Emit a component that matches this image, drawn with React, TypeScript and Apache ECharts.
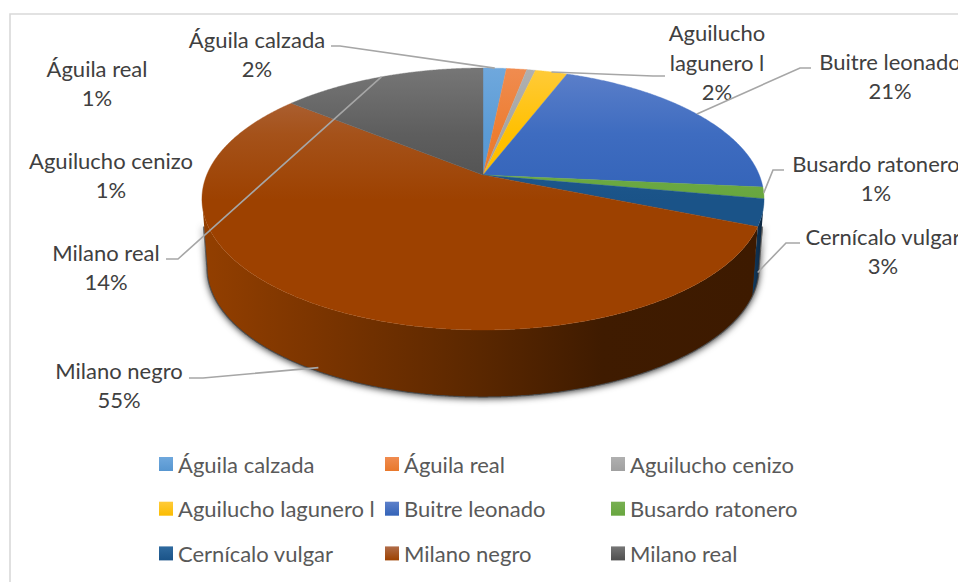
import React, { useEffect, useRef } from "react";
import * as echarts from "echarts";

// ---------- data ----------
const categories = [
  "Águila calzada",
  "Águila real",
  "Aguilucho cenizo",
  "Aguilucho lagunero l",
  "Buitre leonado",
  "Busardo ratonero",
  "Cernícalo vulgar",
  "Milano negro",
  "Milano real",
];
const values = [1.6, 1.4, 0.6, 2.2, 20.7, 1.4, 3.3, 54.7, 14.1];
const legendColumns = [
  ["Águila calzada", "Aguilucho lagunero l", "Cernícalo vulgar"],
  ["Águila real", "Buitre leonado", "Milano negro"],
  ["Aguilucho cenizo", "Busardo ratonero", "Milano real"],
];

// ---------- style & layout ----------
const FONT = "Lato";
const faceStops = [
  ["#6fa8dd", "#5b9bd5", "#5796d0"],
  ["#f08c50", "#ed7d31", "#e8782b"],
  ["#b0b0b0", "#a5a5a5", "#a0a0a0"],
  ["#ffcb3a", "#ffc000", "#fbbc00"],
  ["#5d80ca", "#3e6cc0", "#3363b8"],
  ["#78b052", "#70ad47", "#68a63f"],
  ["#2f6a9f", "#225c91", "#1a5388"],
  ["#b06c48", "#a5521a", "#9d4100"],
  ["#767676", "#5e5e5e", "#4f4f4f"],
];
const sideStops: Record<number, [number, string][]> = {
  6: [[0, "#123a5e"], [1, "#0b2238"]],
  7: [[0, "#933f00"], [0.2, "#7c3500"], [0.5, "#5a2700"], [0.72, "#3f1b00"], [1, "#3d1a00"]],
};
// label centre, wrapped lines, leader line elbow points, and how far down the wall the leader ends
const labelLayout: any[] = [
  { x: 257, y: 54, lines: ["Águila calzada"], path: [[331, 46], [340, 46]], wall: 0 },
  { x: 97, y: 83, lines: ["Águila real"] },
  { x: 111, y: 175, lines: ["Aguilucho cenizo"] },
  { x: 717, y: 62, lines: ["Aguilucho", "lagunero l"], path: [[665, 76], [653, 76]], wall: 0 },
  { x: 890, y: 76, lines: ["Buitre leonado"], path: [[811, 68], [800, 68]], wall: 0 },
  { x: 876, y: 178, lines: ["Busardo ratonero"], path: [[784, 170], [773, 170]], wall: 0 },
  { x: 883, y: 251, lines: ["Cernícalo vulgar"], path: [[800, 243], [786, 243]], wall: 0.87 },
  { x: 119, y: 385, lines: ["Milano negro"], path: [[189, 378], [203, 378]], wall: 0.95 },
  { x: 106, y: 267, lines: ["Milano real"], path: [[166, 259], [178, 259]], wall: 0 },
];
const APEX_X = 483;
const APEX_Y = 175;
const PERSPECTIVE = 0.1832;
const AX = 276.3;
const AY = 126.6;
const DEPTH = 69.5;
const SHRINK = 0.02;
const legendLeft = [159, 385, 611];

const total = values.reduce((a, b) => a + b, 0);
const starts: number[] = [];
values.reduce((acc, v, i) => {
  starts[i] = acc;
  return acc + v;
}, 0);
const toAngle = (v: number) => (v / total) * Math.PI * 2;

// perspective projection of the pie's circle; wall = 0 on the top face, 1 on the floor
const project = (phi: number, wall = 0): number[] => {
  const d = 1 + PERSPECTIVE * Math.cos(phi);
  const dx = (AX * Math.sin(phi)) / d;
  const dy = (-AY * Math.cos(phi)) / d;
  const s = 1 - wall * SHRINK;
  return [APEX_X + s * dx, APEX_Y + s * dy + wall * DEPTH];
};
const PHI_R = Math.acos(-PERSPECTIVE);
const PHI_L = Math.PI * 2 - PHI_R;

const arc = (a: number, b: number, wall = 0) => {
  const pts: number[][] = [];
  const n = Math.max(2, Math.ceil(Math.abs(b - a) / 0.005));
  for (let i = 0; i <= n; i++) pts.push(project(a + ((b - a) * i) / n, wall));
  return pts;
};

const faceGradient = (i: number) =>
  new echarts.graphic.LinearGradient(
    0,
    68,
    0,
    200,
    [
      { offset: 0, color: faceStops[i][0] },
      { offset: 0.5, color: faceStops[i][1] },
      { offset: 1, color: faceStops[i][2] },
    ],
    true
  );

const renderSlice = (i: number) => () => {
  const a = toAngle(starts[i]);
  const b = toAngle(starts[i] + values[i]);
  const children: any[] = [];
  const lo = Math.max(a, PHI_R);
  const hi = Math.min(b, PHI_L);
  if (hi > lo && sideStops[i]) {
    const pts = [...arc(lo, hi, 0), ...arc(hi, lo, 1)];
    children.push({
      type: "polygon",
      shape: { points: pts },
      style: {
        fill: new echarts.graphic.LinearGradient(
          1,
          0,
          0,
          0,
          sideStops[i].map(([offset, color]) => ({ offset: 1 - offset, color })).reverse()
        ),
      },
    });
  }
  const grad = faceGradient(i);
  children.push({
    type: "polygon",
    shape: { points: [[APEX_X, APEX_Y], ...arc(a, b, 0)] },
    style: { fill: grad, stroke: grad, lineWidth: 0.4 },
  });
  return { type: "group", children };
};

// soft shadow under the wall: only the lower half of the silhouette, so the top rim stays clean
const renderShadow = () => ({
  type: "polygon",
  shape: { points: [...arc(PHI_R, PHI_L, 0.4), ...arc(PHI_L, PHI_R, 1)] },
  style: {
    fill: "#5a2700",
    stroke: "rgba(50,50,50,0.65)",
    lineWidth: 2.5,
    shadowBlur: 7,
    shadowColor: "rgba(0,0,0,0.85)",
    shadowOffsetX: 0,
    shadowOffsetY: 1,
  },
});

const renderLabel = (params: any) => {
  const i = params.dataIndex;
  const lay = labelLayout[i];
  const children: any[] = [];
  if (lay.path) {
    const mid = toAngle(starts[i] + values[i] / 2);
    children.push({
      type: "polyline",
      shape: { points: [...lay.path, project(mid, lay.wall)] },
      style: { fill: "none", stroke: "#a6a6a6", lineWidth: 1.6 },
    });
  }
  const pct = Math.round((values[i] / total) * 100) + "%";
  children.push({
    type: "text",
    style: {
      text: [...lay.lines, pct].join("\n"),
      x: lay.x,
      y: lay.y,
      align: "center",
      verticalAlign: "middle",
      lineHeight: 29.7,
      fontFamily: FONT,
      fontSize: 22,
      fill: "#404040",
    },
  });
  return { type: "group", children };
};

const buildOption = () => ({
  animation: false,
  backgroundColor: "#ffffff",
  graphic: [
    {
      type: "polyline",
      z: -1,
      shape: { points: [[10, 590], [10, 14], [965, 14]] },
      style: { fill: "none", stroke: "#d9d9d9", lineWidth: 1.6 },
    },
  ],
  legend: legendColumns.map((col, c) => ({
    orient: "vertical",
    left: legendLeft[c],
    top: 453,
    padding: 0,
    itemWidth: 14,
    itemHeight: 14,
    itemGap: 22.7,
    icon: "rect",
    selectedMode: false,
    data: col.map((name) => ({ name })),
    textStyle: { fontFamily: FONT, fontSize: 22, color: "#595959" },
  })),
  series: [
    {
      type: "custom",
      name: "shadow",
      coordinateSystem: "none",
      silent: true,
      data: [[1]],
      renderItem: renderShadow,
    },
    ...categories.map((name, i) => ({
      type: "custom",
      name,
      coordinateSystem: "none",
      silent: true,
      itemStyle: {
        color: new echarts.graphic.LinearGradient(0, 0, 0, 1, [
          { offset: 0, color: faceStops[i][0] },
          { offset: 1, color: faceStops[i][2] },
        ]),
      },
      data: [[values[i]]],
      renderItem: renderSlice(i),
    })),
    {
      type: "custom",
      name: "labels",
      coordinateSystem: "none",
      silent: true,
      data: values.map((v) => [v]),
      renderItem: renderLabel,
    },
  ],
});

export default function App() {
  const ref = useRef<HTMLDivElement>(null);
  useEffect(() => {
    const chart = echarts.init(ref.current!, undefined, { renderer: "svg" });
    chart.setOption(buildOption() as any);
    return () => chart.dispose();
  }, []);
  return (
    <div
      ref={ref}
      style={{ position: "fixed", left: 0, top: 0, width: 958, height: 582, background: "#fff" }}
    />
  );
}
